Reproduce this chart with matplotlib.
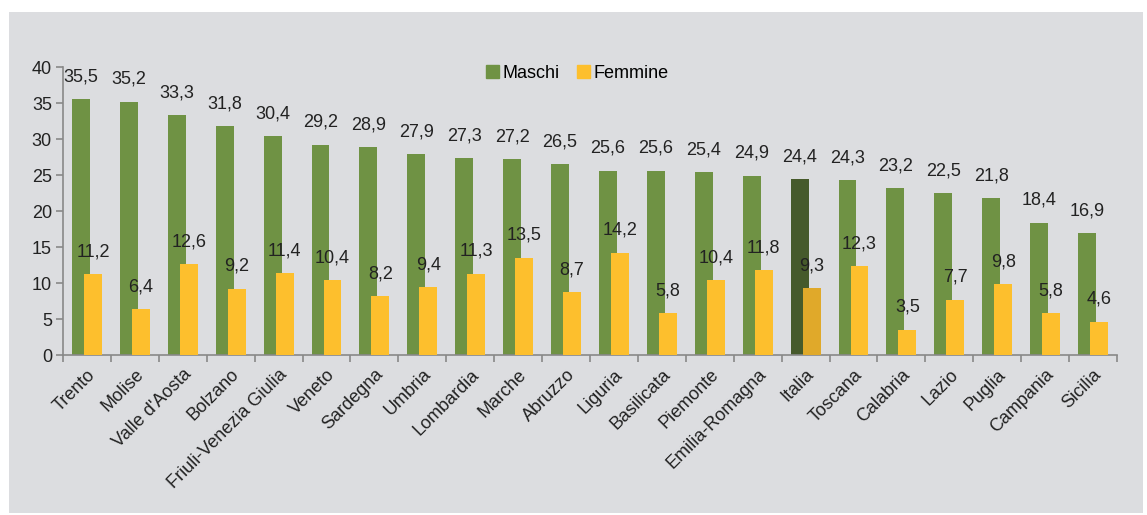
import numpy as np
import matplotlib.pyplot as plt
from matplotlib.patches import Rectangle, Patch

plt.rcParams['font.family'] = ['Liberation Sans', 'DejaVu Sans']

# dati per regione
regioni = ['Trento', 'Molise', "Valle d'Aosta", 'Bolzano', 'Friuli-Venezia Giulia',
           'Veneto', 'Sardegna', 'Umbria', 'Lombardia', 'Marche', 'Abruzzo', 'Liguria',
           'Basilicata', 'Piemonte', 'Emilia-Romagna', 'Italia', 'Toscana', 'Calabria',
           'Lazio', 'Puglia', 'Campania', 'Sicilia']
maschi = [35.5, 35.2, 33.3, 31.8, 30.4, 29.2, 28.9, 27.9, 27.3, 27.2, 26.5, 25.6,
          25.6, 25.4, 24.9, 24.4, 24.3, 23.2, 22.5, 21.8, 18.4, 16.9]
femmine = [11.2, 6.4, 12.6, 9.2, 11.4, 10.4, 8.2, 9.4, 11.3, 13.5, 8.7, 14.2,
           5.8, 10.4, 11.8, 9.3, 12.3, 3.5, 7.7, 9.8, 5.8, 4.6]

verde = '#6f9244'
giallo = '#fdbf2d'
verde_scuro = '#465a2b'
giallo_scuro = '#e0a92a'
sfondo = '#dcdde0'
testo = '#222222'
fs = 13

fig = plt.figure(figsize=(11.47, 5.15), dpi=100)
fig.patch.set_facecolor('white')
# riquadro grigio di sfondo
fig.patches.append(Rectangle((9 / 1147, 2 / 515), 1134 / 1147, 501 / 515,
                             transform=fig.transFigure, facecolor=sfondo,
                             edgecolor='none', zorder=-10))

ax = fig.add_axes([63 / 1147, 1 - 355 / 515, (1117 - 63) / 1147, (355 - 67) / 515])
ax.set_facecolor('none')

x = np.arange(len(regioni))
w = 0.375
col_m = [verde_scuro if r == 'Italia' else verde for r in regioni]
col_f = [giallo_scuro if r == 'Italia' else giallo for r in regioni]
ax.bar(x - 0.125, maschi, w, color=col_m, zorder=2)
ax.bar(x + 0.125, femmine, w, color=col_f, zorder=3)

for xi, v in zip(x, maschi):
    ax.annotate(f'{v:.1f}'.replace('.', ','), (xi - 0.125, v), xytext=(0, 10),
                textcoords='offset points', ha='center', va='bottom',
                fontsize=fs, color=testo, zorder=4)
for xi, v in zip(x, femmine):
    ax.annotate(f'{v:.1f}'.replace('.', ','), (xi + 0.125, v), xytext=(0, 10),
                textcoords='offset points', ha='center', va='bottom',
                fontsize=fs, color=testo, zorder=4)

ax.set_xlim(-0.5, len(regioni) - 0.5)
ax.set_ylim(0, 40)
ax.set_yticks(range(0, 41, 5))
ax.tick_params(axis='y', labelsize=fs, colors='#888888', labelcolor=testo,
               length=5, width=1.2, pad=3)

ax.set_xticks(x)
ax.set_xticklabels(regioni, rotation=45, ha='right', rotation_mode='anchor',
                   fontsize=fs, color=testo)
ax.set_xticks(np.arange(-0.5, len(regioni)), minor=True)
ax.tick_params(axis='x', which='major', length=0, pad=8)
ax.tick_params(axis='x', which='minor', length=5, width=1.2, color='#888888')

for s in ['top', 'right']:
    ax.spines[s].set_visible(False)
for s in ['left', 'bottom']:
    ax.spines[s].set_color('#888888')
    ax.spines[s].set_linewidth(1.2)

ax.legend(handles=[Patch(color=verde), Patch(color=giallo)], labels=['Maschi', 'Femmine'],
          loc='upper center', bbox_to_anchor=(0.488, 1.065), ncol=2, frameon=False,
          fontsize=fs, handlelength=0.7, handleheight=0.7, handletextpad=0.2,
          columnspacing=1.0)

fig.savefig('out.png', dpi=100)
